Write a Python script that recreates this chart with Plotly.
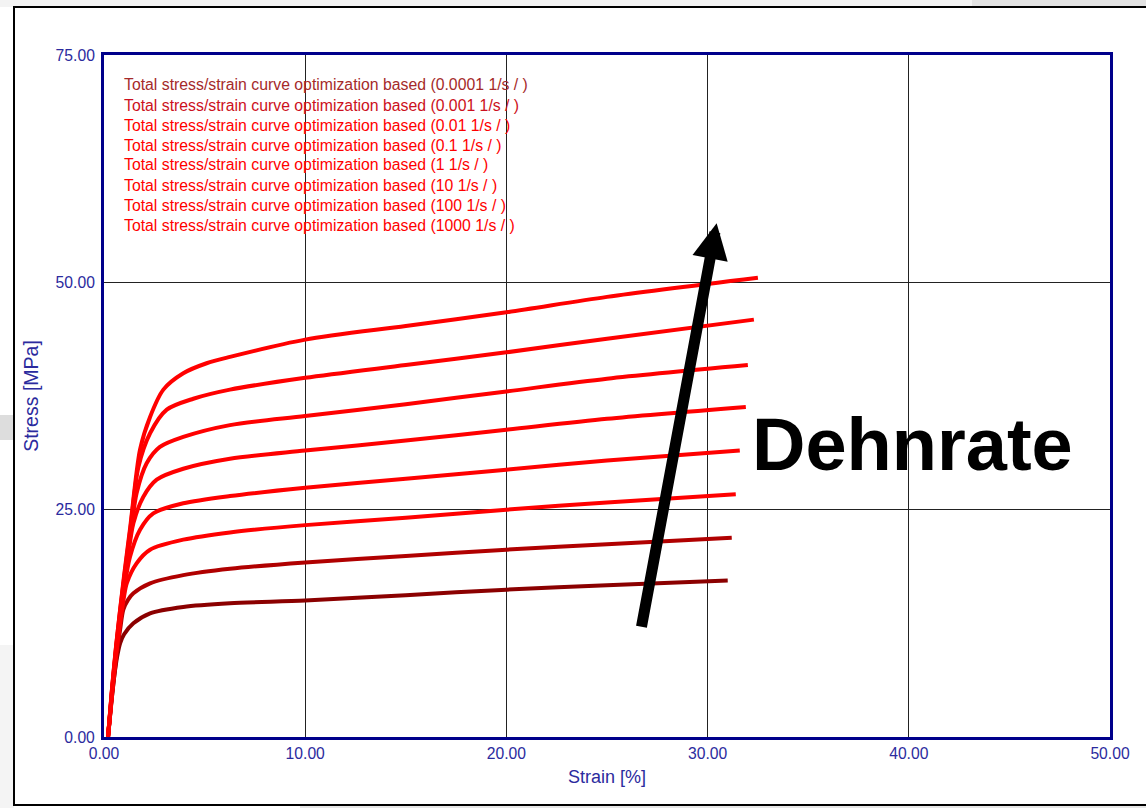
import plotly.graph_objects as go

# ---------------- data ----------------
rate_labels = ["0.0001", "0.001", "0.01", "0.1", "1", "10", "100", "1000"]
legend_texts = [f"Total stress/strain curve optimization based ({r} 1/s / )" for r in rate_labels]

strain_0p0001 = [0.2, 0.35, 0.5, 0.65, 0.8, 1.0, 1.46, 2.29, 3.94, 6.26, 10, 15, 20, 25, 31.0]
stress_0p0001 = [0, 3.5, 6.5, 8.8, 10.3, 11.3, 12.5, 13.6, 14.3, 14.7, 15.0, 15.6, 16.2, 16.7, 17.2]

strain_0p001 = [0.2, 0.4, 0.6, 0.8, 0.96, 1.2, 1.46, 2.29, 3.94, 6.26, 10, 15, 20, 25, 31.2]
stress_0p001 = [0, 4.5, 8.5, 11.8, 14.0, 15.1, 15.8, 16.9, 17.8, 18.5, 19.2, 19.9, 20.6, 21.2, 21.9]

strain_0p01 = [0.2, 0.4, 0.6, 0.8, 1.0, 1.13, 1.62, 2.29, 3.94, 6.26, 10, 15, 20, 25, 31.4]
stress_0p01 = [0, 4.8, 9.0, 12.5, 15.5, 16.9, 19.1, 20.6, 21.7, 22.5, 23.3, 24.1, 25.0, 25.8, 26.7]

strain_0p1 = [0.2, 0.4, 0.6, 0.8, 1.0, 1.29, 1.79, 2.45, 3.94, 6.26, 10, 15, 20, 25, 31.6]
stress_0p1 = [0, 5.0, 9.3, 13.0, 16.3, 19.8, 22.8, 24.6, 25.7, 26.5, 27.4, 28.4, 29.4, 30.4, 31.5]

strain_1 = [0.2, 0.4, 0.6, 0.8, 1.0, 1.2, 1.46, 1.95, 2.62, 3.94, 6.26, 10, 15, 20, 25, 31.9]
stress_1 = [0, 5.0, 9.5, 13.3, 16.8, 20.0, 23.5, 26.4, 28.3, 29.5, 30.6, 31.5, 32.6, 33.8, 35.0, 36.3]

strain_10 = [0.2, 0.4, 0.6, 0.8, 1.0, 1.3, 1.62, 2.12, 2.78, 3.94, 6.26, 10, 15, 20, 25, 32.0]
stress_10 = [0, 5.2, 9.7, 13.6, 17.2, 22.0, 26.8, 30.1, 31.9, 33.0, 34.3, 35.3, 36.6, 38.0, 39.4, 40.9]

strain_100 = [0.2, 0.4, 0.6, 0.8, 1.0, 1.3, 1.71, 2.29, 3.12, 4.44, 6.26, 10, 15, 20, 25, 32.3]
stress_100 = [0, 5.3, 9.9, 13.9, 17.5, 22.7, 29.7, 33.4, 36.0, 37.2, 38.2, 39.5, 40.9, 42.3, 43.8, 45.9]

strain_1000 = [0.2, 0.4, 0.6, 0.8, 1.0, 1.3, 1.79, 2.29, 2.95, 3.94, 5.1, 6.26, 10, 15, 20, 25, 32.5]
stress_1000 = [0, 5.4, 10.0, 14.0, 17.8, 23.0, 31.6, 35.2, 38.2, 40.0, 41.1, 41.8, 43.7, 45.2, 46.7, 48.4, 50.5]

strains = [strain_0p0001, strain_0p001, strain_0p01, strain_0p1, strain_1, strain_10, strain_100, strain_1000]
stresses = [stress_0p0001, stress_0p001, stress_0p01, stress_0p1, stress_1, stress_10, stress_100, stress_1000]
curve_colors = ["#8B0000", "#B00000", "#FF0000", "#FF0000", "#FF0000", "#FF0000", "#FF0000", "#FF0000"]
text_colors = ["#A52A2A", "#CC1020", "#FF0000", "#FF0000", "#FF0000", "#FF0000", "#FF0000", "#FF0000"]

x_ticks = [0, 10, 20, 30, 40, 50]
y_ticks = [0, 25, 50, 75]

# arrow (annotation) endpoints and label
arrow_tail = (26.7, 11.95)
arrow_tip = (30.45, 56.5)
label_text = "Dehnrate"

FONT = "Liberation Sans, Arial, sans-serif"
AXIS_BLUE = "#00008B"
TICK_BLUE = "#2B2B9E"

fig = go.Figure()
for xs, ys, col, name in zip(strains, stresses, curve_colors, legend_texts):
    fig.add_trace(go.Scatter(x=xs, y=ys, mode="lines", name=name,
                             line=dict(color=col, width=4, shape="spline", smoothing=0.8),
                             showlegend=False, hoverinfo="skip"))

annotations = []
for i, (t, c) in enumerate(zip(legend_texts, text_colors)):
    annotations.append(dict(text=t, xref="paper", yref="paper",
                            x=(122 - 104) / 1006, y=(737 - (85 + 20 * i)) / 682,
                            xanchor="left", yanchor="middle", showarrow=False,
                            font=dict(family=FONT, size=15.8, color=c)))

annotations.append(dict(x=arrow_tip[0], y=arrow_tip[1], ax=arrow_tail[0], ay=arrow_tail[1],
                        xref="x", yref="y", axref="x", ayref="y", text="",
                        showarrow=True, arrowhead=2, arrowsize=0.65, arrowwidth=11,
                        arrowcolor="black", standoff=0, startstandoff=0))
annotations.append(dict(x=40.2, y=32.2, xref="x", yref="y", text="<b>" + label_text + "</b>",
                        showarrow=False, xanchor="center", yanchor="middle",
                        font=dict(family=FONT, size=74, color="black")))

def px2paper_x(p):
    return (p - 104) / 1006

def px2paper_y(p):
    return (737 - p) / 682

shapes = [
    # background patches of the screenshot
    dict(type="rect", xref="paper", yref="paper", layer="below",
         x0=px2paper_x(0), x1=px2paper_x(972), y0=px2paper_y(7), y1=px2paper_y(0),
         fillcolor="#F3F3F3", line=dict(width=0)),
    dict(type="rect", xref="paper", yref="paper", layer="below",
         x0=px2paper_x(972), x1=px2paper_x(1146), y0=px2paper_y(7), y1=px2paper_y(0),
         fillcolor="#E2E2E2", line=dict(width=0)),
    dict(type="rect", xref="paper", yref="paper", layer="below",
         x0=px2paper_x(0), x1=px2paper_x(14), y0=px2paper_y(440), y1=px2paper_y(415),
         fillcolor="#DDDDDD", line=dict(width=0)),
    dict(type="rect", xref="paper", yref="paper", layer="below",
         x0=px2paper_x(0), x1=px2paper_x(14), y0=px2paper_y(808), y1=px2paper_y(645),
         fillcolor="#F4F4F4", line=dict(width=0)),
    dict(type="rect", xref="paper", yref="paper", layer="below",
         x0=px2paper_x(300), x1=px2paper_x(1146), y0=px2paper_y(808), y1=px2paper_y(806),
         fillcolor="#E6E6E6", line=dict(width=0)),
    # outer frame
    dict(type="rect", xref="paper", yref="paper", layer="below",
         x0=px2paper_x(14), x1=px2paper_x(1160), y0=px2paper_y(805), y1=px2paper_y(7),
         fillcolor="white", line=dict(color="black", width=2)),
]

fig.update_layout(
    width=1146, height=808,
    margin=dict(l=104, r=36, t=55, b=71),
    paper_bgcolor="white", plot_bgcolor="white",
    showlegend=False,
    annotations=annotations,
    shapes=shapes,
    font=dict(family=FONT, size=15.7, color=TICK_BLUE),
)
fig.update_xaxes(range=[0, 50], tickvals=x_ticks, tickformat=".2f",
                 showgrid=True, gridcolor="#222222", gridwidth=1, zeroline=False,
                 showline=True, linecolor=AXIS_BLUE, linewidth=3, mirror=True,
                 ticks="", tickfont=dict(family=FONT, size=15.7, color=TICK_BLUE),
                 title=dict(text="Strain [%]", standoff=10,
                            font=dict(family=FONT, size=18, color=TICK_BLUE)))
fig.update_yaxes(range=[0, 75], tickvals=y_ticks, tickformat=".2f",
                 showgrid=True, gridcolor="#222222", gridwidth=1, zeroline=False,
                 showline=True, linecolor=AXIS_BLUE, linewidth=3, mirror=True,
                 ticks="", ticklabelstandoff=3,
                 tickfont=dict(family=FONT, size=15.7, color=TICK_BLUE),
                 title=dict(text="Stress [MPa]", standoff=12,
                            font=dict(family=FONT, size=19.5, color=TICK_BLUE)))

fig.write_html("out.html")
